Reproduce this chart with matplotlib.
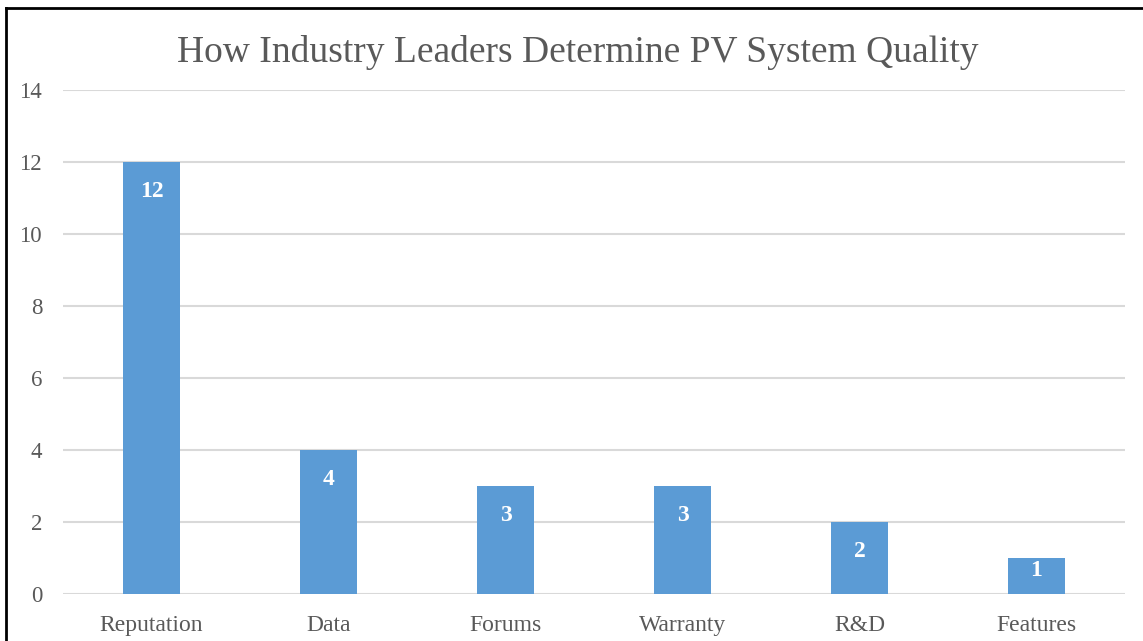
import matplotlib.pyplot as plt
from matplotlib.lines import Line2D

categories = ['Reputation', 'Data', 'Forums', 'Warranty', 'R&D', 'Features']
counts = [12, 4, 3, 3, 2, 1]
yticks = [0, 2, 4, 6, 8, 10, 12, 14]

plt.rcParams['font.family'] = ['Liberation Serif', 'DejaVu Serif']
txt = '#595959'

fig = plt.figure(figsize=(11.43, 6.41), dpi=100)
ax = fig.add_axes([63/1143, 1 - 594/641, (1125 - 63)/1143, (594 - 90)/641])

x = list(range(len(categories)))
ax.bar(x, counts, width=0.32, color='#5B9BD5', zorder=3)
for xi, v in zip(x, counts):
    # short bars get their label pushed up towards the top edge, like Excel does
    off = -21 if v >= 1.5 else -9
    ax.annotate(str(v), (xi, v), xytext=(0, off), textcoords='offset points',
                ha='center', va='center', color='white', fontsize=17, fontweight='bold', zorder=4)

ax.set_xlim(-0.5, len(categories) - 0.5)
ax.set_ylim(0, 14)
ax.set_yticks(yticks)
ax.set_xticks(x)
ax.set_xticklabels(categories)
ax.tick_params(axis='both', length=0, labelcolor=txt)
ax.tick_params(axis='x', pad=15, labelsize=17)
ax.tick_params(axis='y', pad=15, labelsize=16.5)
ax.yaxis.grid(True, color='#D9D9D9', linewidth=1.5, zorder=0)
for s in ax.spines.values():
    s.set_visible(False)

fig.text(578/1143, 1 - 53/641, 'How Industry Leaders Determine PV System Quality',
         ha='center', va='center', fontsize=27, color=txt)

# outer frame (only top and left visible in the reference)
fig.add_artist(Line2D([6/1143, 1], [1 - 8/641, 1 - 8/641], color='black', linewidth=2, transform=fig.transFigure))
fig.add_artist(Line2D([6/1143, 6/1143], [0, 1 - 8/641], color='black', linewidth=2, transform=fig.transFigure))

fig.savefig('out.png', dpi=100)
